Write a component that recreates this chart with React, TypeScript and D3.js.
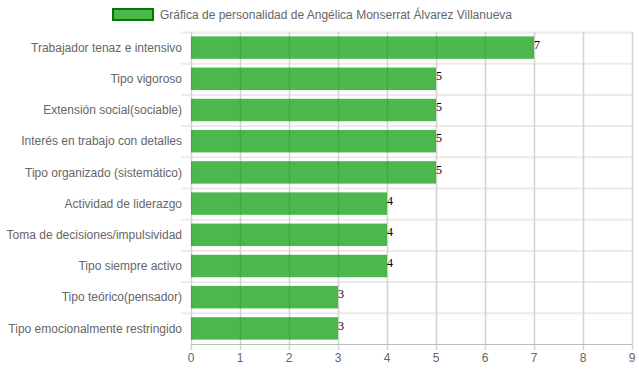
import { useEffect, useRef } from "react"
import * as d3 from "d3"

const categories = [
  "Trabajador tenaz e intensivo",
  "Tipo vigoroso",
  "Extensión social(sociable)",
  "Interés en trabajo con detalles",
  "Tipo organizado (sistemático)",
  "Actividad de liderazgo",
  "Toma de decisiones/impulsividad",
  "Tipo siempre activo",
  "Tipo teórico(pensador)",
  "Tipo emocionalmente restringido",
]
const values = [7, 5, 5, 5, 5, 4, 4, 4, 3, 3]
const xTicks = [0, 1, 2, 3, 4, 5, 6, 7, 8, 9]
const seriesLabel = "Gráfica de personalidad de Angélica Monserrat Álvarez Villanueva"

export default function App() {
  const svgRef = useRef<SVGSVGElement>(null)

  useEffect(() => {
    if (!svgRef.current) return
    const svg = d3.select(svgRef.current)
    svg.selectAll("*").remove()

    const width = 639
    const height = 372
    const left = 191
    const right = 632
    const top = 32
    const bottom = 344
    const font = "'Liberation Sans', Arial, sans-serif"

    const x = d3.scaleLinear().domain([0, 9]).range([left, right])
    const y = d3.scaleBand().domain(categories).range([top, bottom]).paddingInner(0.28).paddingOuter(0.14)
    const step = y.step()

    // horizontal grid lines between categories
    const hLines = d3.range(categories.length + 1).map((i) => top + i * ((bottom - top) / categories.length))
    svg.append("g")
      .selectAll("line")
      .data(hLines.slice(0, -1))
      .join("line")
      .attr("x1", left - 10)
      .attr("x2", right)
      .attr("y1", (d) => d + 0.5)
      .attr("y2", (d) => d + 0.5)
      .attr("stroke", "#ebebeb")
      .attr("stroke-width", 2)

    // vertical grid lines
    svg.append("g")
      .selectAll("line")
      .data(xTicks)
      .join("line")
      .attr("x1", (d) => Math.round(x(d)) + 0.5)
      .attr("x2", (d) => Math.round(x(d)) + 0.5)
      .attr("y1", top)
      .attr("y2", bottom + 6)
      .attr("stroke", "#d2d2d2")
      .attr("stroke-width", 1.5)

    // x axis line
    svg.append("line")
      .attr("x1", left)
      .attr("x2", right)
      .attr("y1", bottom + 0.5)
      .attr("y2", bottom + 0.5)
      .attr("stroke", "#bdbdbd")

    // bars
    svg.append("g")
      .selectAll("rect")
      .data(values)
      .join("rect")
      .attr("x", x(0))
      .attr("y", (_, i) => y(categories[i])!)
      .attr("width", (d) => x(d) - x(0))
      .attr("height", y.bandwidth())
      .attr("fill", "rgba(0,153,0,0.7)")

    // value labels
    svg.append("g")
      .selectAll("text")
      .data(values)
      .join("text")
      .attr("x", (d) => x(d))
      .attr("y", (_, i) => y(categories[i])! + 12.5)
      .attr("font-family", "'Liberation Serif', 'Times New Roman', serif")
      .attr("font-size", 12)
      .attr("fill", "#000")
      .text((d) => d)

    // category labels
    svg.append("g")
      .selectAll("text")
      .data(categories)
      .join("text")
      .attr("x", left - 9)
      .attr("y", (d) => y(d)! + y.bandwidth() / 2)
      .attr("dy", "0.35em")
      .attr("text-anchor", "end")
      .attr("font-family", font)
      .attr("font-size", 12)
      .attr("fill", "#666")
      .text((d) => d)

    // x tick labels
    svg.append("g")
      .selectAll("text")
      .data(xTicks)
      .join("text")
      .attr("x", (d) => x(d))
      .attr("y", 362)
      .attr("text-anchor", "middle")
      .attr("font-family", font)
      .attr("font-size", 12)
      .attr("fill", "#666")
      .text((d) => d)

    // legend
    svg.append("rect")
      .attr("x", 113)
      .attr("y", 9)
      .attr("width", 40)
      .attr("height", 11)
      .attr("fill", "rgba(0,153,0,0.7)")
      .attr("stroke", "#007a00")
      .attr("stroke-width", 2)
    svg.append("text")
      .attr("x", 160)
      .attr("y", 18.5)
      .attr("font-family", font)
      .attr("font-size", 12)
      .attr("fill", "#666")
      .text(seriesLabel)

    svg.attr("width", width).attr("height", height).attr("viewBox", [0, 0, width, height])
    void step
  }, [])

  return (
    <svg
      ref={svgRef}
      style={{ position: "absolute", left: 0, top: 0, display: "block", background: "#fff" }}
    ></svg>
  )
}
